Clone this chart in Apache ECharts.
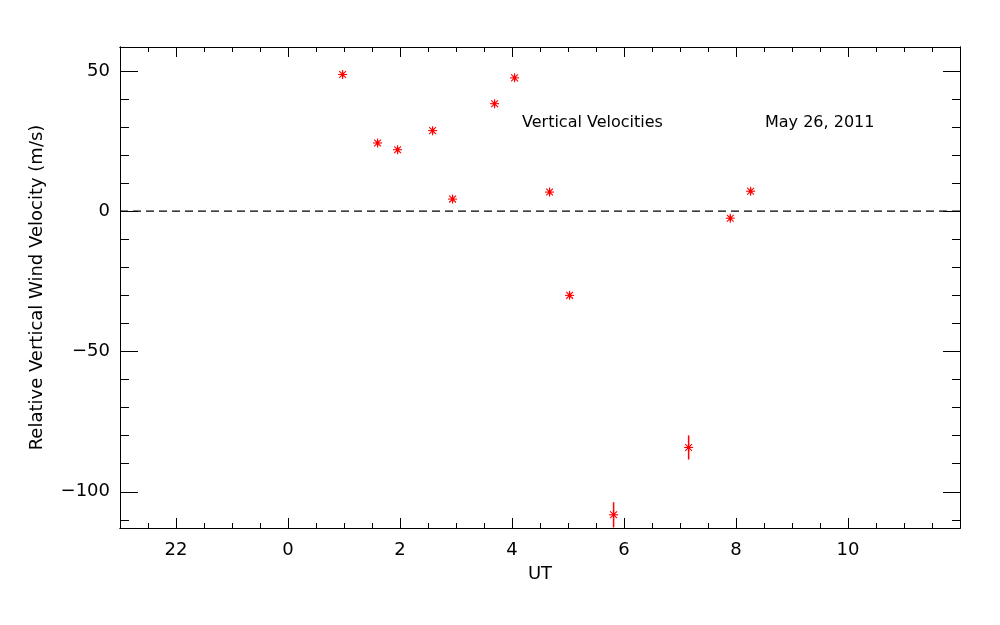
<!DOCTYPE html>
<html>
<head>
<meta charset="utf-8">
<script src="https://cdn.jsdelivr.net/npm/echarts@6/dist/echarts.min.js"></script>
<style>html,body{margin:0;padding:0;background:#fff;}#c{width:1000px;height:625px;}</style>
</head>
<body>
<div id="c"></div>
<script>
// ---- data ----
const utHours = [0.975, 1.600, 1.957, 2.582, 2.939, 3.689, 4.046, 4.671, 5.029, 5.814, 7.154, 7.898, 8.261];
const velocities = [48.7, 24.3, 21.9, 28.7, 4.3, 38.3, 47.5, 6.8, -30.0, -108.2, -84.2, -2.5, 7.1];
const velErrors = [1.0, 1.0, 1.0, 1.0, 1.0, 1.0, 1.0, 1.0, 1.0, 4.5, 4.3, 1.0, 1.0];
const xMajorTicks = [-2, 0, 2, 4, 6, 8, 10];
const xMinorTicks = [-2.5, -1.5, -1, -0.5, 0.5, 1, 1.5, 2.5, 3, 3.5, 4.5, 5, 5.5, 6.5, 7, 7.5, 8.5, 9, 9.5, 10.5, 11, 11.5];
const yMajorTicks = [-100, -50, 0, 50];
const yMinorTicks = [-110, -90, -80, -70, -60, -40, -30, -20, -10, 10, 20, 30, 40];
const xRange = [-3, 12];
const yRange = [-112.9, 58.5];
const zeroLine = [[-3, 0], [12, 0]];
const titleText = 'Vertical Velocities';
const dateText = 'May 26, 2011';
const xName = 'UT';
const yName = 'Relative Vertical Wind Velocity (m/s)';

// ---- chart ----
const FONT = 'DejaVu Sans';
const black = '#000';
const lineStyle = { color: black, width: 1 };
function xAxisDef(pos, ticks, len, labels) {
  return {
    type: 'value', position: pos, min: xRange[0], max: xRange[1],
    axisLine: { show: true, onZero: false, lineStyle },
    axisTick: { show: true, inside: true, length: len, customValues: ticks, lineStyle },
    axisLabel: labels ? {
      show: true, customValues: ticks, margin: 13, color: black, fontFamily: FONT, fontSize: 18,
      formatter: v => String(((v % 24) + 24) % 24)
    } : { show: false },
    splitLine: { show: false },
    name: labels ? xName : '', nameLocation: 'middle', nameGap: 37,
    nameTextStyle: { color: black, fontFamily: FONT, fontSize: 18 }
  };
}
function yAxisDef(pos, ticks, len, labels) {
  return {
    type: 'value', position: pos, min: yRange[0], max: yRange[1],
    axisLine: { show: true, onZero: false, lineStyle },
    axisTick: { show: true, inside: true, length: len, customValues: ticks, lineStyle },
    axisLabel: labels ? {
      show: true, customValues: ticks, margin: 10, color: black, fontFamily: FONT, fontSize: 18,
      formatter: v => (v < 0 ? '\u2212' + Math.abs(v) : String(v))
    } : { show: false },
    splitLine: { show: false },
    name: labels ? yName : '', nameLocation: 'middle', nameGap: 74, nameRotate: 90,
    nameTextStyle: { color: black, fontFamily: FONT, fontSize: 18 }
  };
}

const chart = echarts.init(document.getElementById('c'), null, { renderer: 'canvas' });
const pts = utHours.map((x, i) => [x, velocities[i], velErrors[i]]);
const red = '#ff0000';

chart.setOption({
  animation: false,
  backgroundColor: '#fff',
  grid: { left: 120, right: 40, top: 47, bottom: 97, containLabel: false },
  xAxis: [
    xAxisDef('bottom', xMajorTicks, 10, true),
    xAxisDef('bottom', xMinorTicks, 5, false),
    xAxisDef('top', xMajorTicks, 10, false),
    xAxisDef('top', xMinorTicks, 5, false)
  ],
  yAxis: [
    yAxisDef('left', yMajorTicks, 18, true),
    yAxisDef('left', yMinorTicks, 9, false),
    yAxisDef('right', yMajorTicks, 17, false),
    yAxisDef('right', yMinorTicks, 8, false)
  ],
  graphic: [
    { type: 'text', left: 522, top: 115, style: { text: titleText, fill: black, font: '16px "DejaVu Sans"' } },
    { type: 'text', left: 765, top: 115, style: { text: dateText, fill: black, font: '16px "DejaVu Sans"' } }
  ],
  series: [
    {
      type: 'line', xAxisIndex: 0, yAxisIndex: 0, data: zeroLine, silent: true,
      symbol: 'none', lineStyle: { color: black, type: [8, 5], width: 1.3 }, z: 1
    },
    {
      type: 'custom', xAxisIndex: 0, yAxisIndex: 0, data: pts, z: 3,
      renderItem: function (params, api) {
        const x = api.value(0), y = api.value(1), e = api.value(2);
        const c = api.coord([x, y]);
        const t = api.coord([x, y + e]), b = api.coord([x, y - e]);
        const r = 4.5, d = 3.4;
        const st = { stroke: red, lineWidth: 1.1 };
        return {
          type: 'group', children: [
            { type: 'line', shape: { x1: c[0], y1: t[1], x2: c[0], y2: b[1] }, style: { stroke: red, lineWidth: 1.5 } },
            { type: 'line', shape: { x1: c[0] - r, y1: c[1], x2: c[0] + r, y2: c[1] }, style: st },
            { type: 'line', shape: { x1: c[0], y1: c[1] - r, x2: c[0], y2: c[1] + r }, style: st },
            { type: 'line', shape: { x1: c[0] - d, y1: c[1] - d, x2: c[0] + d, y2: c[1] + d }, style: st },
            { type: 'line', shape: { x1: c[0] - d, y1: c[1] + d, x2: c[0] + d, y2: c[1] - d }, style: st },
            { type: 'circle', shape: { cx: c[0], cy: c[1], r: 1.7 }, style: { fill: red } }
          ]
        };
      }
    }
  ]
});
</script>
</body>
</html>
